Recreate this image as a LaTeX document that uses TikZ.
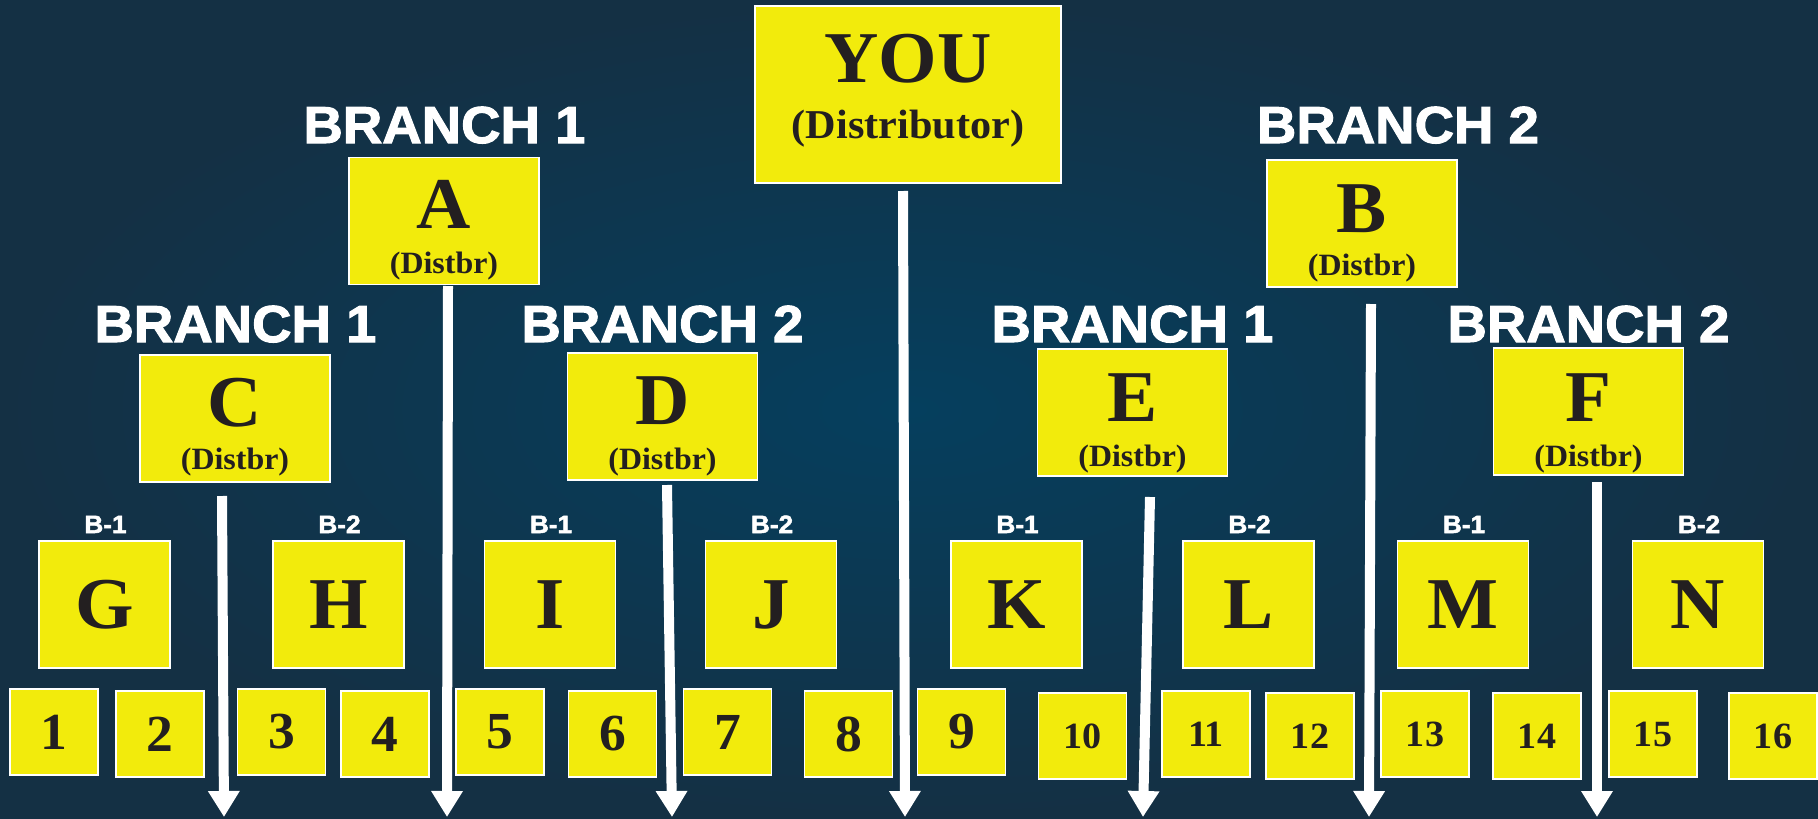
\documentclass[tikz,border=0pt]{standalone}
\usepackage{fontspec}
\usetikzlibrary{arrows.meta}
\newfontfamily\tbf{Liberation Serif Bold}[FakeStretch=1.03]
\newfontfamily\hvb{Liberation Sans Bold}[FakeBold=2,FakeStretch=1.05]
\definecolor{bgin}{RGB}{5,63,94}
\definecolor{bgout}{RGB}{20,48,68}
\definecolor{boxy}{RGB}{242,235,12}
\definecolor{ink}{RGB}{35,31,32}
\tikzset{
  ybox/.style={draw=white, line width=1.5pt, fill=boxy, inner sep=0pt, rectangle, text=ink},
  dbox/.style={ybox, minimum width=190pt, minimum height=127pt},
  lbox/.style={ybox, minimum width=131pt, minimum height=127pt, font=\tbf\fontsize{73}{73}\selectfont},
  nbox/.style={ybox, minimum width=88pt, minimum height=86pt},
  onedig/.style={font=\tbf\fontsize{52}{52}\selectfont},
  twodig/.style={font=\tbf\fontsize{37}{37}\selectfont},
  bigl/.style={anchor=base, inner sep=0pt, text=ink, font=\tbf\fontsize{73}{73}\selectfont},
  subl/.style={anchor=base, inner sep=0pt, text=ink, font=\tbf\fontsize{31}{31}\selectfont},
  youl/.style={anchor=base, inner sep=0pt, text=ink, font=\tbf\fontsize{41}{41}\selectfont},
  branchl/.style={anchor=base, inner sep=0pt, text=white, font=\hvb\fontsize{52}{52}\selectfont},
  blab/.style={anchor=base, inner sep=0pt, text=white, font=\hvb\fontsize{25}{25}\selectfont},
  flow/.style={white, line width=10pt, -{Triangle[width=30pt,length=26pt]}}
}
\begin{document}
\begin{tikzpicture}[x=1pt,y=-1pt]
\useasboundingbox (0,0) rectangle (1818,819);
\shade[inner color=bgin, outer color=bgout] (0,0) rectangle (1818,819);

% top distributor
\node[ybox, minimum width=306pt, minimum height=177pt] (you) at (908,94.5) {};
\node[bigl] (youT) at (908,82) {YOU};
\node[youl] (youD) at (908,138) {(Distributor)};

% branch labels
\node[branchl] (br1top) at (444.5,143) {BRANCH 1};
\node[branchl] (br2top) at (1398,143) {BRANCH 2};
\node[branchl] (br1c) at (235.5,342) {BRANCH 1};
\node[branchl] (br2d) at (662.5,342) {BRANCH 2};
\node[branchl] (br1e) at (1132.5,342) {BRANCH 1};
\node[branchl] (br2f) at (1588.5,342) {BRANCH 2};

% distributor boxes
\node[dbox] (A) at (444,221) {};
\node[bigl] (AT) at (444,228) {A};
\node[subl] (AD) at (444,273) {(Distbr)};
\node[dbox] (B) at (1362,223.5) {};
\node[bigl] (BT) at (1362,232) {B};
\node[subl] (BD) at (1362,275) {(Distbr)};
\node[dbox] (C) at (235,418.5) {};
\node[bigl] (CT) at (235,426) {C};
\node[subl] (CD) at (235,469) {(Distbr)};
\node[dbox] (D) at (662.5,416.5) {};
\node[bigl] (DT) at (662.5,424) {D};
\node[subl] (DD) at (662.5,469) {(Distbr)};
\node[dbox] (E) at (1132.5,412.5) {};
\node[bigl] (ET) at (1132.5,421) {E};
\node[subl] (ED) at (1132.5,466) {(Distbr)};
\node[dbox] (F) at (1588.5,411.5) {};
\node[bigl] (FT) at (1588.5,421) {F};
\node[subl] (FD) at (1588.5,466) {(Distbr)};

% B-1 / B-2 labels and letter boxes
\foreach \nm/\x/\lab in {G/104.5/B-1, H/338.5/B-2, I/550/B-1, J/771/B-2, K/1016.5/B-1, L/1248.5/B-2, M/1463/B-1, N/1698/B-2}{
  \node[lbox] (\nm) at (\x,604.5) {\nm};
  \node[blab] (lab\nm) at (\x+1,533) {\lab};
}

% numbered boxes
\foreach \n/\x/\y in {1/54/732, 2/160/734, 3/281.5/732, 4/385/734, 5/500/732, 6/612.5/734, 7/727.5/732, 8/848.5/734, 9/961.5/732}{
  \node[nbox, onedig] (n\n) at (\x,\y) {\n};
}
\foreach \n/\x/\y in {10/1082.5/734, 11/1206/732, 12/1310/734, 13/1425/732, 14/1537/734, 15/1653/732, 16/1773/734}{
  \node[nbox, twodig] (n\n) at (\x,\y+2) {\n};
}

% arrows
\coordinate (cS) at (222,496);   \coordinate (cE) at (224,817);
\coordinate (aS) at (448,286);   \coordinate (aE) at (447,817);
\coordinate (dS) at (667,485);   \coordinate (dE) at (672,817);
\coordinate (yS) at (903,191);   \coordinate (yE) at (905,817);
\coordinate (eS) at (1150,497);  \coordinate (eE) at (1143,817);
\coordinate (bS) at (1371,304);  \coordinate (bE) at (1369,817);
\coordinate (fS) at (1597,482);  \coordinate (fE) at (1597,817);
\foreach \s in {c,a,d,y,e,b,f}{
  \draw[flow] (\s S) -- (\s E);
}
\end{tikzpicture}
\end{document}
